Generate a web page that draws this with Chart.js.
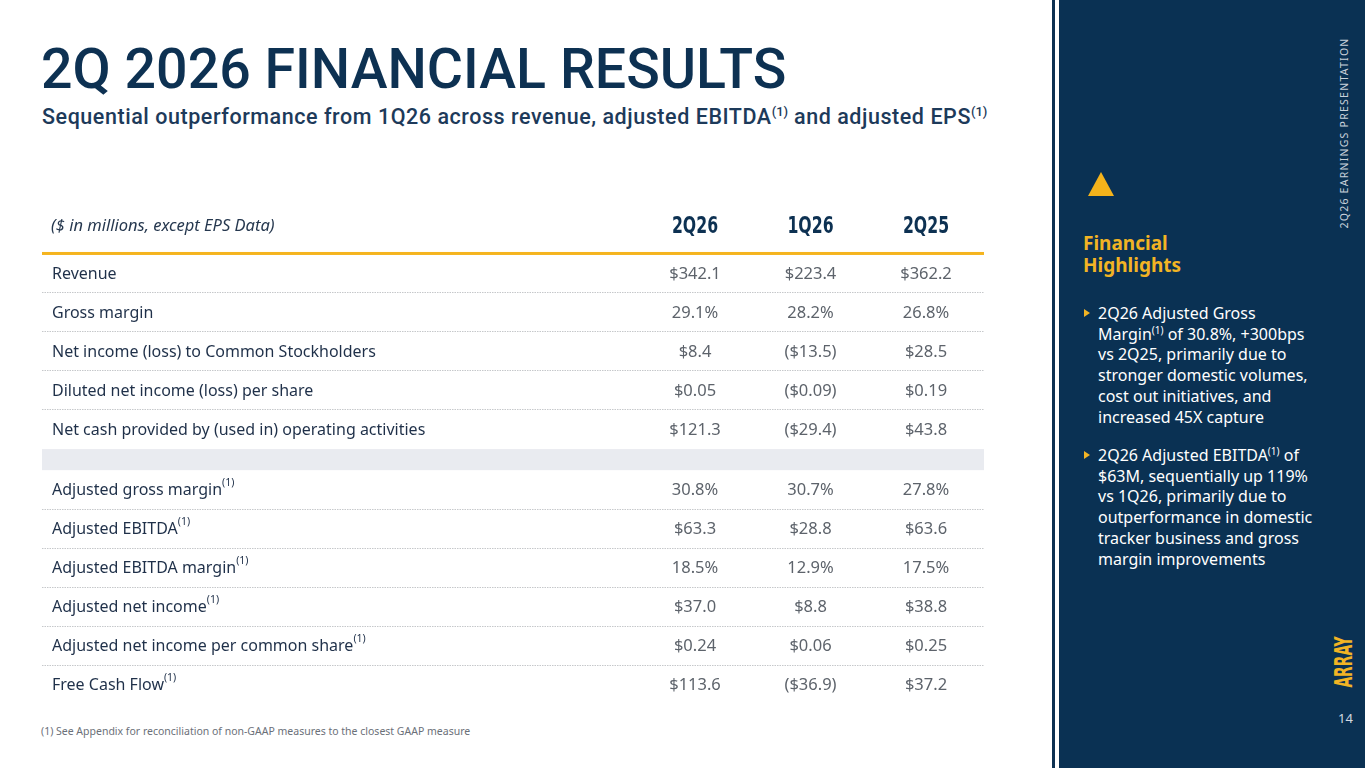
<!DOCTYPE html>
<html lang="en">
<head>
  <meta charset="UTF-8" />
  <title>2Q 2026 Financial Results</title>
  <script src="https://cdn.jsdelivr.net/npm/chart.js"></script>
  <style>
    html, body {
      margin: 0;
      padding: 0;
      width: 1365px;
      height: 768px;
      overflow: hidden;
      background: #ffffff;
      font-family: "Noto Sans", sans-serif;
    }

    .title {
      position: absolute;
      left: 41px;
      top: 36px;
      font-family: Roboto, sans-serif;
      font-weight: 500;
      font-size: 55.5px;
      line-height: 68px;
      color: #0d3152;
      white-space: nowrap;
    }

    .subtitle {
      position: absolute;
      left: 42px;
      top: 103px;
      font-family: Roboto, sans-serif;
      font-weight: 500;
      font-size: 21.5px;
      letter-spacing: 0.55px;
      line-height: 28px;
      color: #1d3a5a;
      white-space: nowrap;
    }

    .subtitle sup {
      font-size: 13px;
      line-height: 0;
      letter-spacing: 0;
    }

    #tableBox {
      position: absolute;
      left: 42px;
      top: 200px;
      width: 942px;
      height: 520px;
    }

    .footnote {
      position: absolute;
      left: 41px;
      top: 724px;
      font-size: 10.5px;
      color: #6b7079;
      white-space: nowrap;
    }

    .rule {
      position: absolute;
      left: 1052px;
      top: 0;
      width: 3px;
      height: 768px;
      background: #0d3152;
    }

    .panel {
      position: absolute;
      left: 1059px;
      top: 0;
      width: 306px;
      height: 768px;
      background: #0a3153;
    }

    .tri {
      position: absolute;
      left: 1088px;
      top: 172px;
      width: 0;
      height: 0;
      border-left: 13.5px solid transparent;
      border-right: 13.5px solid transparent;
      border-bottom: 24px solid #f5b31b;
    }

    .hl-title {
      position: absolute;
      left: 1083px;
      top: 232px;
      font-size: 19px;
      font-weight: 700;
      line-height: 22px;
      color: #f2b424;
    }

    .bullets {
      position: absolute;
      left: 1098px;
      top: 303px;
      width: 250px;
      margin: 0;
      padding: 0;
      list-style: none;
      color: #ffffff;
      font-size: 16px;
      line-height: 20.7px;
      white-space: nowrap;
    }

    .bullets li {
      position: relative;
      margin-bottom: 17.8px;
    }

    .bullets li::before {
      content: "";
      position: absolute;
      left: -14px;
      top: 6px;
      border-top: 4px solid transparent;
      border-bottom: 4px solid transparent;
      border-left: 6px solid #f2b424;
    }

    .bullets sup {
      font-size: 10px;
      line-height: 0;
    }

    .side {
      position: absolute;
      left: 1344px;
      top: 133px;
      transform: translate(-50%, -50%) rotate(-90deg);
      font-size: 10.5px;
      letter-spacing: 1.25px;
      color: #c9d1db;
      white-space: nowrap;
    }

    .logo {
      position: absolute;
      left: 1344px;
      top: 662px;
      transform: translate(-50%, -50%) rotate(-90deg) scaleX(0.64);
      font-family: "DejaVu Sans Condensed", sans-serif;
      font-weight: 700;
      font-size: 24px;
      color: #f2b424;
      white-space: nowrap;
    }

    .page {
      position: absolute;
      left: 1338px;
      top: 709px;
      font-size: 13px;
      color: #d3d9e1;
    }
  </style>
</head>
<body>
  <div class="title">2Q 2026 FINANCIAL RESULTS</div>
  <div class="subtitle">Sequential outperformance from 1Q26 across revenue, adjusted EBITDA<sup>(1)</sup> and adjusted EPS<sup>(1)</sup></div>

  <div id="tableBox"><canvas id="resultsTable" width="942" height="520"></canvas></div>

  <div class="footnote">(1) See Appendix for reconciliation of non-GAAP measures to the closest GAAP measure</div>

  <div class="rule"></div>
  <div class="panel"></div>
  <div class="tri"></div>
  <div class="hl-title">Financial<br>Highlights</div>
  <ul class="bullets">
    <li>2Q26 Adjusted Gross<br>Margin<sup>(1)</sup> of 30.8%, +300bps<br>vs 2Q25, primarily due to<br>stronger domestic volumes,<br>cost out initiatives, and<br>increased 45X capture</li>
    <li>2Q26 Adjusted EBITDA<sup>(1)</sup> of<br>$63M, sequentially up 119%<br>vs 1Q26, primarily due to<br>outperformance in domestic<br>tracker business and gross<br>margin improvements</li>
  </ul>
  <div class="side">2Q26 EARNINGS PRESENTATION</div>
  <div class="logo">ARRAY</div>
  <div class="page">14</div>

  <script>
    // table data
    const columns = ['2Q26', '1Q26', '2Q25'];
    const rowLabels = [
      'Revenue',
      'Gross margin',
      'Net income (loss) to Common Stockholders',
      'Diluted net income (loss) per share',
      'Net cash provided by (used in) operating activities',
      'Adjusted gross margin',
      'Adjusted EBITDA',
      'Adjusted EBITDA margin',
      'Adjusted net income',
      'Adjusted net income per common share',
      'Free Cash Flow'
    ];
    const rowNote = [false, false, false, false, false, true, true, true, true, true, true];
    const rowFormat = ['usd', 'pct', 'usd', 'eps', 'usd', 'pct', 'usd', 'pct', 'usd', 'eps', 'usd'];
    const q2_26 = [342.1, 29.1, 8.4, 0.05, 121.3, 30.8, 63.3, 18.5, 37.0, 0.24, 113.6];
    const q1_26 = [223.4, 28.2, -13.5, -0.09, -29.4, 30.7, 28.8, 12.9, 8.8, 0.06, -36.9];
    const q2_25 = [362.2, 26.8, 28.5, 0.19, 43.8, 27.8, 63.6, 17.5, 38.8, 0.25, 37.2];
    const unitNote = '($ in millions, except EPS Data)';

    const seriesValues = [q2_26, q1_26, q2_25];

    // GAAP rows, then a spacer band, then non-GAAP rows (half a row lower)
    const rowSlot = rowLabels.map((_, i) => i + (i >= 5 ? 0.55 : 0));

    function fmt(v, kind) {
      if (kind === 'pct') return v.toFixed(1) + '%';
      const s = '$' + Math.abs(v).toFixed(kind === 'eps' ? 2 : 1);
      return v < 0 ? '(' + s + ')' : s;
    }

    const tablePlugin = {
      id: 'tableText',
      beforeDatasetsDraw(chart) {
        const { ctx, chartArea: a, scales: { y } } = chart;
        ctx.save();

        // spacer band
        ctx.fillStyle = '#e9ebf0';
        const b0 = y.getPixelForValue(4.49);
        const b1 = y.getPixelForValue(5.03);
        ctx.fillRect(a.left, b0, a.width, b1 - b0);

        // dotted row separators
        ctx.strokeStyle = '#c6c8cb';
        ctx.lineWidth = 1;
        ctx.setLineDash([1.5, 1]);
        rowSlot.forEach((s, i) => {
          if (i === 4 || i === rowSlot.length - 1) return;
          const py = Math.round(y.getPixelForValue(s + 0.47)) + 0.5;
          ctx.beginPath();
          ctx.moveTo(a.left, py);
          ctx.lineTo(a.right, py);
          ctx.stroke();
        });
        ctx.setLineDash([]);

        // yellow header rule
        ctx.fillStyle = '#f5b41e';
        const yl = y.getPixelForValue(-0.526);
        ctx.fillRect(a.left, yl - 1.5, a.width, 3);
        ctx.restore();
      },
      afterDatasetsDraw(chart) {
        const { ctx, chartArea: a, scales: { x, y } } = chart;
        ctx.save();
        ctx.textBaseline = 'middle';

        // header row
        const hy = y.getPixelForValue(-1.23);
        ctx.textAlign = 'left';
        ctx.fillStyle = '#26384f';
        ctx.font = 'italic 16.5px "Noto Sans"';
        ctx.fillText(unitNote, a.left + 9, hy);
        ctx.textAlign = 'center';
        ctx.fillStyle = '#0d3152';
        ctx.font = 'bold 23px "DejaVu Sans Condensed"';
        columns.forEach((c, j) => {
          ctx.save();
          ctx.translate(x.getPixelForValue(j + 1), hy + 1);
          ctx.scale(0.76, 1);
          ctx.fillText(c, 0, 0);
          ctx.restore();
        });

        // row labels
        rowLabels.forEach((lab, i) => {
          const py = y.getPixelForValue(rowSlot[i]);
          ctx.textAlign = 'left';
          ctx.fillStyle = '#1f3049';
          ctx.font = '16px "Noto Sans"';
          ctx.fillText(lab, a.left + 10, py);
          if (rowNote[i]) {
            const w = ctx.measureText(lab).width;
            ctx.font = '10.5px "Noto Sans"';
            ctx.fillText('(1)', a.left + 10 + w, py - 7);
          }
        });

        // values
        ctx.textAlign = 'center';
        ctx.fillStyle = '#5d636b';
        ctx.font = '16.5px "Noto Sans"';
        chart.data.datasets.forEach((ds, j) => {
          chart.getDatasetMeta(j).data.forEach((pt, i) => {
            ctx.fillText(fmt(ds.values[i], rowFormat[i]), pt.x, pt.y);
          });
        });
        ctx.restore();
      }
    };

    new Chart(document.getElementById('resultsTable'), {
      type: 'scatter',
      data: {
        datasets: seriesValues.map((vals, j) => ({
          label: columns[j],
          values: vals,
          data: vals.map((_, i) => ({ x: j + 1, y: rowSlot[i] })),
          pointRadius: 0,
          pointHoverRadius: 0
        }))
      },
      options: {
        responsive: false,
        animation: false,
        events: [],
        layout: { padding: 0 },
        plugins: { legend: { display: false }, tooltip: { enabled: false } },
        scales: {
          x: { type: 'linear', display: false, min: -4.6537, max: 3.5022 },
          y: { type: 'linear', display: false, reverse: true, min: -1.897, max: 11.436 }
        }
      },
      plugins: [tablePlugin]
    });
  </script>
</body>
</html>
